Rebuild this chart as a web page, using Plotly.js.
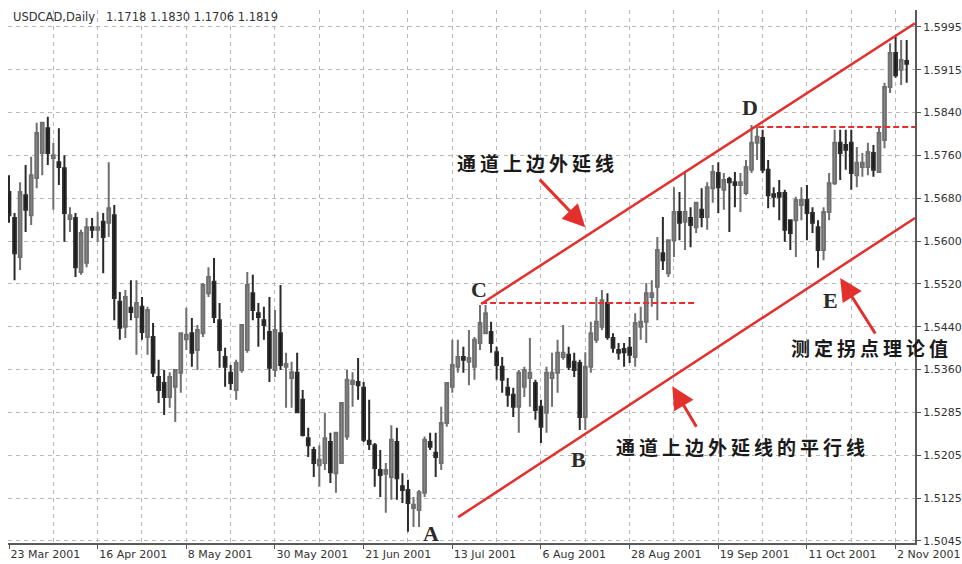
<!DOCTYPE html>
<html>
<head>
<meta charset="utf-8">
<script src="https://cdn.plot.ly/plotly-3.0.1.min.js"></script>
<style>
html,body{margin:0;padding:0;background:#fff;}
#chart{width:962px;height:564px;}
.cjk text{letter-spacing:4px;}
</style>
</head>
<body>
<div id="chart"></div>
<script>
// ---- data (bar index 0 = 23 Mar 2001, daily bars) ----
const openP = [
1.5690,1.5642,1.5570,1.5684,1.5647,1.5716,1.5762,1.5808,1.5753,1.5745,
1.5734,1.5640,1.5642,1.5542,1.5559,1.5625,1.5620,1.5635,1.5633,1.5647,
1.5487,1.5441,1.5476,1.5459,1.5478,1.5422,1.5422,1.5348,1.5337,1.5311,
1.5330,1.5356,1.5418,1.5429,1.5398,1.5429,1.5503,1.5524,1.5453,1.5385,
1.5356,1.5324,1.5361,1.5398,1.5503,1.5466,1.5453,1.5431,1.5361,1.5429,
1.5367,1.5346,1.5356,1.5306,1.5235,1.5213,1.5185,1.5189,1.5228,1.5170,
1.5189,1.5238,1.5335,1.5339,1.5328,1.5230,1.5222,1.5176,1.5169,1.5163,
1.5228,1.5146,1.5139,1.5106,1.5102,1.5134,1.5228,1.5208,1.5189,1.5263,
1.5330,1.5367,1.5385,1.5376,1.5367,1.5411,1.5429,1.5431,1.5394,1.5367,
1.5328,1.5315,1.5293,1.5330,1.5346,1.5337,1.5293,1.5282,1.5346,1.5356,
1.5385,1.5389,1.5376,1.5374,1.5274,1.5367,1.5417,1.5441,1.5485,1.5420,
1.5398,1.5400,1.5402,1.5385,1.5441,1.5450,1.5496,1.5515,1.5577,1.5540,
1.5601,1.5653,1.5635,1.5642,1.5625,1.5657,1.5644,1.5697,1.5725,1.5694,
1.5714,1.5708,1.5703,1.5688,1.5731,1.5781,1.5790,1.5731,1.5686,1.5688,
1.5688,1.5638,1.5638,1.5666,1.5675,1.5651,1.5625,1.5583,1.5653,1.5706,
1.5781,1.5777,1.5781,1.5721,1.5736,1.5736,1.5762,1.5727,1.5786,1.5884,
1.5947,1.5916,1.5932];
const highP = [
1.5721,1.5651,1.5708,1.5740,1.5755,1.5818,1.5819,1.5829,1.5781,1.5808,
1.5758,1.5662,1.5651,1.5620,1.5642,1.5642,1.5653,1.5651,1.5745,1.5666,
1.5505,1.5509,1.5527,1.5527,1.5496,1.5478,1.5448,1.5380,1.5361,1.5357,
1.5361,1.5429,1.5476,1.5457,1.5444,1.5522,1.5551,1.5568,1.5485,1.5402,
1.5370,1.5380,1.5444,1.5542,1.5537,1.5485,1.5478,1.5496,1.5472,1.5518,
1.5393,1.5376,1.5393,1.5324,1.5254,1.5219,1.5222,1.5282,1.5245,1.5245,
1.5302,1.5361,1.5357,1.5383,1.5339,1.5306,1.5226,1.5213,1.5189,1.5259,
1.5254,1.5170,1.5158,1.5126,1.5139,1.5238,1.5245,1.5245,1.5293,1.5337,
1.5417,1.5417,1.5404,1.5435,1.5422,1.5481,1.5481,1.5450,1.5404,1.5385,
1.5346,1.5328,1.5361,1.5367,1.5420,1.5343,1.5306,1.5367,1.5393,1.5417,
1.5444,1.5404,1.5393,1.5380,1.5394,1.5450,1.5496,1.5509,1.5503,1.5429,
1.5411,1.5411,1.5422,1.5466,1.5478,1.5522,1.5527,1.5607,1.5644,1.5601,
1.5699,1.5690,1.5725,1.5662,1.5672,1.5697,1.5708,1.5740,1.5745,1.5725,
1.5718,1.5727,1.5725,1.5749,1.5814,1.5810,1.5805,1.5749,1.5699,1.5712,
1.5694,1.5638,1.5681,1.5699,1.5703,1.5662,1.5638,1.5662,1.5725,1.5805,
1.5805,1.5805,1.5805,1.5773,1.5762,1.5781,1.5777,1.5810,1.5892,1.5965,
1.5977,1.5971,1.5971];
const lowP = [
1.5633,1.5527,1.5546,1.5616,1.5629,1.5697,1.5721,1.5740,1.5657,1.5703,
1.5598,1.5616,1.5533,1.5537,1.5551,1.5605,1.5598,1.5540,1.5607,1.5453,
1.5417,1.5420,1.5453,1.5389,1.5417,1.5389,1.5348,1.5300,1.5278,1.5291,
1.5265,1.5319,1.5398,1.5367,1.5361,1.5422,1.5496,1.5448,1.5365,1.5330,
1.5324,1.5306,1.5356,1.5393,1.5453,1.5404,1.5417,1.5339,1.5348,1.5361,
1.5291,1.5291,1.5282,1.5238,1.5200,1.5163,1.5145,1.5176,1.5152,1.5134,
1.5188,1.5232,1.5293,1.5306,1.5228,1.5213,1.5145,1.5126,1.5097,1.5121,
1.5121,1.5115,1.5062,1.5071,1.5071,1.5126,1.5213,1.5163,1.5176,1.5256,
1.5319,1.5356,1.5356,1.5333,1.5343,1.5398,1.5429,1.5393,1.5343,1.5319,
1.5293,1.5274,1.5245,1.5311,1.5293,1.5269,1.5226,1.5245,1.5293,1.5319,
1.5380,1.5361,1.5348,1.5250,1.5250,1.5356,1.5411,1.5435,1.5417,1.5393,
1.5380,1.5367,1.5374,1.5367,1.5417,1.5411,1.5478,1.5453,1.5546,1.5533,
1.5570,1.5601,1.5583,1.5588,1.5614,1.5625,1.5620,1.5670,1.5651,1.5657,
1.5616,1.5662,1.5653,1.5684,1.5725,1.5749,1.5725,1.5660,1.5662,1.5638,
1.5598,1.5583,1.5570,1.5638,1.5601,1.5614,1.5550,1.5564,1.5638,1.5703,
1.5712,1.5731,1.5694,1.5699,1.5718,1.5721,1.5718,1.5725,1.5771,1.5873,
1.5901,1.5888,1.5892];
const closeP = [
1.5647,1.5577,1.5690,1.5657,1.5721,1.5799,1.5818,1.5762,1.5758,1.5736,
1.5651,1.5647,1.5551,1.5614,1.5625,1.5620,1.5625,1.5607,1.5660,1.5494,
1.5439,1.5496,1.5468,1.5485,1.5431,1.5472,1.5356,1.5324,1.5311,1.5348,
1.5361,1.5429,1.5426,1.5393,1.5435,1.5518,1.5533,1.5459,1.5398,1.5367,
1.5337,1.5374,1.5444,1.5518,1.5472,1.5459,1.5444,1.5365,1.5435,1.5370,
1.5372,1.5357,1.5283,1.5241,1.5222,1.5189,1.5195,1.5235,1.5172,1.5245,
1.5300,1.5343,1.5341,1.5333,1.5232,1.5224,1.5180,1.5167,1.5176,1.5232,
1.5161,1.5139,1.5115,1.5112,1.5135,1.5232,1.5219,1.5200,1.5263,1.5337,
1.5370,1.5385,1.5380,1.5383,1.5417,1.5448,1.5466,1.5411,1.5370,1.5343,
1.5315,1.5293,1.5356,1.5361,1.5356,1.5287,1.5256,1.5356,1.5356,1.5393,
1.5393,1.5367,1.5361,1.5274,1.5367,1.5429,1.5450,1.5490,1.5422,1.5402,
1.5393,1.5394,1.5389,1.5448,1.5450,1.5503,1.5503,1.5583,1.5564,1.5601,
1.5653,1.5633,1.5653,1.5629,1.5670,1.5644,1.5699,1.5727,1.5699,1.5712,
1.5708,1.5703,1.5708,1.5736,1.5781,1.5792,1.5731,1.5684,1.5681,1.5681,
1.5620,1.5614,1.5675,1.5675,1.5651,1.5633,1.5583,1.5653,1.5706,1.5781,
1.5762,1.5768,1.5725,1.5744,1.5744,1.5764,1.5731,1.5799,1.5884,1.5947,
1.5906,1.5934,1.5927];

// x-axis date labels (every 16 bars)
const dateTickBars = [0,16,32,48,64,80,96,112,128,144,160];
const dateTickText = ['23 Mar 2001','16 Apr 2001','8 May 2001','30 May 2001','21 Jun 2001',
  '13 Jul 2001','6 Aug 2001','28 Aug 2001','19 Sep 2001','11 Oct 2001','2 Nov 2001'];
const minorGridBars = [8,24,40,56,72,88,104,120,136,152];

// y-axis price grid levels and their labels
const priceTickVals = [1.5045,1.51242,1.52033,1.52825,1.53617,1.54408,1.552,1.55992,1.56783,1.57575,1.58367,1.59158,1.5995];
const priceTickText = ['1.5045','1.5125','1.5205','1.5285','1.5360','1.5440','1.5520','1.5600','1.5680','1.5760','1.5840','1.5915','1.5995'];

// channel lines (bar index, price)
const upperLineBars = [85.2, 163.5];
const upperLinePrices = [1.5483, 1.6002];
const lowerLineBars = [81.05, 163.5];
const lowerLinePrices = [1.5089, 1.5642];
const levelCBars = [85.2, 123.8];
const levelCPrices = [1.5485, 1.5485];
const levelDBars = [135.2, 163.5];
const levelDPrices = [1.5810, 1.5810];

// point labels
const pointLabels = ['A','B','C','D','E'];
const pointBars = [76.2, 102.7, 84.8, 133.8, 148.2];
const pointPrices = [1.5058, 1.5195, 1.5509, 1.5847, 1.5490];

// callouts
const calloutTexts = ['通道上边外延线','通道上边外延线的平行线','测定拐点理论值'];
const calloutBars = [95.3, 132.3, 155.6];
const calloutPrices = [1.5745, 1.5219, 1.5402];
const arrowTipBars = [104.0, 119.7, 150.0];
const arrowTipPrices = [1.5625, 1.5331, 1.5531];
const arrowTailDx = [-47, 25, 36];
const arrowTailDy = [-49, 42, 57];

const bars = openP.map((_, i) => i);
const RED = '#e3302d';

const traces = [
  {
    type: 'candlestick', x: bars, open: openP, high: highP, low: lowP, close: closeP,
    increasing: {line: {color: '#6f6f6f', width: 2}, fillcolor: '#929292'},
    decreasing: {line: {color: '#2a2a2a', width: 2}, fillcolor: '#111111'},
    whiskerwidth: 0, showlegend: false, hoverinfo: 'skip'
  },
  {type: 'scatter', mode: 'lines', x: upperLineBars, y: upperLinePrices, line: {color: RED, width: 2.5}, showlegend: false},
  {type: 'scatter', mode: 'lines', x: lowerLineBars, y: lowerLinePrices, line: {color: RED, width: 2.5}, showlegend: false},
  {type: 'scatter', mode: 'lines', x: levelCBars, y: levelCPrices, line: {color: RED, width: 2, dash: '6px,3px'}, showlegend: false},
  {type: 'scatter', mode: 'lines', x: levelDBars, y: levelDPrices, line: {color: RED, width: 2, dash: '6px,3px'}, showlegend: false}
];

const annotations = [];
pointLabels.forEach((t, i) => annotations.push({
  x: pointBars[i], y: pointPrices[i], xref: 'x', yref: 'y', text: t, showarrow: false,
  font: {family: 'Liberation Serif', size: 22, color: '#2b2b2b', weight: 'bold'}
}));
calloutTexts.forEach((t, i) => annotations.push({
  x: calloutBars[i], y: calloutPrices[i], xref: 'x', yref: 'y', text: t, showarrow: false,
  font: {family: 'Noto Sans CJK SC', size: 19, color: '#1a1a1a', weight: 'bold'}
}));
arrowTipBars.forEach((b, i) => annotations.push({
  x: b, y: arrowTipPrices[i], xref: 'x', yref: 'y', text: '', showarrow: true,
  ax: arrowTailDx[i], ay: arrowTailDy[i], arrowhead: 2, arrowsize: 1.5, arrowwidth: 3,
  arrowcolor: RED, standoff: 0
}));

const gridStyle = {gridcolor: '#b8b8b8', gridwidth: 1, griddash: '4px,4px'};

const layout = {
  width: 962, height: 564,
  margin: {l: 8, r: 47, t: 10, b: 21},
  paper_bgcolor: '#ffffff', plot_bgcolor: '#ffffff',
  showlegend: false,
  title: {
    text: 'USDCAD,Daily\u00a0\u00a0 1.1718 1.1830 1.1706 1.1819',
    font: {family: 'DejaVu Sans', size: 11.5, color: '#333333'},
    xref: 'container', yref: 'container', x: 13/962, xanchor: 'left', y: 1 - 17/564, yanchor: 'middle'
  },
  xaxis: Object.assign({
    range: [-0.18, 163.5], tickmode: 'array', tickvals: dateTickBars, ticktext: dateTickText,
    ticklabelposition: 'outside right', ticks: 'outside', ticklen: 4, tickcolor: '#555',
    showline: true, linecolor: '#5a5a5a', linewidth: 2, zeroline: false, showgrid: true,
    tickfont: {family: 'DejaVu Sans', size: 11, color: '#333'},
    rangeslider: {visible: false}, fixedrange: true,
    minor: Object.assign({tickmode: 'array', tickvals: minorGridBars, showgrid: true, ticks: ''}, gridStyle)
  }, gridStyle),
  yaxis: Object.assign({
    side: 'right', range: [1.50412, 1.60264], tickmode: 'array', tickvals: priceTickVals, ticktext: priceTickText,
    ticks: 'outside', ticklen: 4, tickcolor: '#555', showline: true, linecolor: '#5a5a5a', linewidth: 2,
    zeroline: false, showgrid: true, tickfont: {family: 'DejaVu Sans', size: 11, color: '#333'}, fixedrange: true
  }, gridStyle),
  annotations: annotations
};

Plotly.newPlot('chart', traces, layout, {displayModeBar: false, staticPlot: true}).then(() => {
  document.querySelectorAll('.annotation').forEach(g => {
    const idx = +g.getAttribute('data-index');
    if (idx >= pointLabels.length && idx < pointLabels.length + calloutTexts.length) {
      g.classList.add('cjk');
    }
  });
});
</script>
</body>
</html>
